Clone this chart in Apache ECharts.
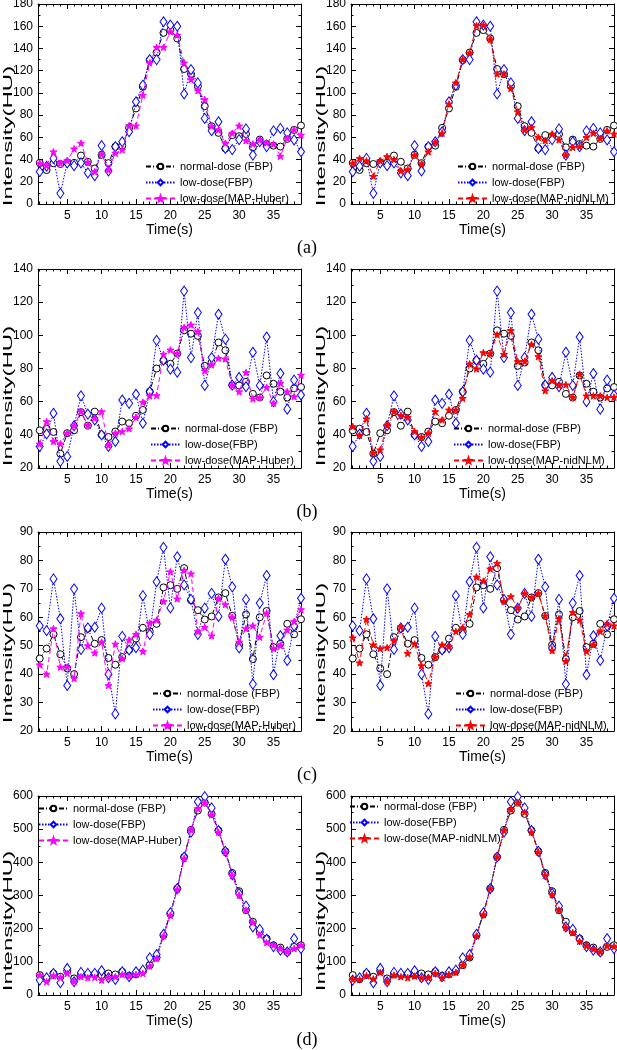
<!DOCTYPE html>
<html>
<head>
<meta charset="utf-8">
<script src="https://cdn.jsdelivr.net/npm/echarts@6/dist/echarts.min.js"></script>
<style>
html, body { margin: 0; padding: 0; background: #fff; }
#chart { width: 617px; height: 1050px; }
</style>
</head>
<body>
<div id="chart"></div>
<script>
var time = [1, 2, 3, 4, 5, 6, 7, 8, 9, 10, 11, 12, 13, 14, 15, 16, 17, 18, 19, 20,
	21, 22, 23, 24, 25, 26, 27, 28, 29, 30, 31, 32, 33, 34, 35, 36, 37, 38, 39];
var xTicks = [5, 10, 15, 20, 25, 30, 35];

// (a)
var normalA = [37, 30.6, 36.7, 36, 37.5, 37, 43.6, 38, 32, 44.3, 36.8, 51.7, 52.5, 68.5, 86, 105.5, 129.5, 136.3, 154, 156.5,
	149, 121.5, 117, 106, 88, 70, 64, 50, 62, 61, 63, 51, 58, 54, 52.5, 51.7, 58.6, 66.7, 70.6];
var lowA = [29, 34, 41, 9.6, 37, 34.5, 37, 28, 25.5, 52.6, 29.7, 51.7, 56, 65, 92, 107, 130, 130, 164, 161,
	160, 99, 121, 109, 77, 66, 74, 50, 49, 58, 67.6, 44, 56, 51.7, 65.8, 68, 64, 57.7, 47];
var huberA = [36.7, 34.5, 47, 36.7, 39, 49.6, 54.7, 37.5, 29, 45, 30.6, 45.7, 48.7, 70.6, 70.3, 98, 127, 141, 141, 155,
	152, 127, 112, 102, 94, 70, 66.7, 54.7, 63.7, 70.3, 57, 54, 57.7, 55, 54, 43, 59, 66.7, 62];
var nlmA = [36.7, 41, 38.8, 25, 38.8, 42.7, 40, 29.7, 31, 44, 36, 47, 55.6, 63.7, 90, 109, 130, 136, 160.5, 161,
	148, 117, 117, 104, 83, 66.7, 69, 60, 57, 63, 57.7, 44, 51, 51.7, 60, 63.7, 59, 65.8, 63];

// (b)
var normalB = [42.7, 43.7, 41.7, 28.6, 41, 42.7, 53.7, 45.5, 54, 40, 38.7, 42, 48, 47, 51.5, 55, 66, 80, 84.8, 82.8,
	89, 103, 101, 99.7, 81.6, 83.6, 95.7, 91, 70, 69.8, 72, 64.7, 62.5, 75.8, 70.8, 66, 62.5, 68, 68.8];
var lowB = [33, 40.5, 53, 24, 27, 45.5, 63.5, 52.5, 49, 40, 33, 36, 61, 59, 64.5, 47, 66, 97, 85, 79.6,
	77.8, 126.7, 86.6, 113.7, 69.8, 86.6, 112.7, 97.7, 70, 74.6, 69, 89.8, 69.8, 99, 60, 77, 55.5, 73, 64];
var huberB = [34.5, 48, 36, 34.6, 41, 45.5, 54, 45.7, 50, 54, 33.6, 41, 42, 43.7, 50.5, 59.7, 63.5, 63.7, 88.6, 91.2,
	89, 104.7, 106.3, 102.3, 78.6, 82.2, 86.2, 85.8, 69.8, 66, 77.6, 61.7, 62.5, 68.6, 59, 71.2, 66, 63, 76];
var nlmB = [45, 39.7, 49.7, 29, 31, 45.7, 54, 51.7, 50.5, 42, 38.5, 41, 54, 49, 55, 55, 62, 82.8, 79.8, 89.6,
	89, 100.3, 88.6, 103, 84.2, 84.2, 94.6, 87.2, 66.6, 72.6, 69.8, 70.2, 62.5, 76.6, 63.5, 63.5, 63.5, 62.5, 62.7];

// (c)
var normalC = [45.5, 49, 54, 47, 42, 40, 53, 56, 50.7, 52, 45.7, 43.3, 46, 48.5, 52.5, 56.3, 55, 57.7, 70.5, 71.3,
	70, 77.3, 66, 62.5, 59.2, 60.3, 67, 68.5, 60.5, 50.3, 61, 45.3, 60, 62.2, 49.5, 50.7, 57.7, 54, 59.3];
var lowC = [57, 55.3, 73.5, 59.5, 36, 70, 48.7, 56.3, 56.5, 63.2, 40, 26, 53.3, 48.5, 49.3, 67.6, 54, 72.5, 84.6, 63.3,
	81.3, 71.4, 66.3, 54, 63.2, 68.4, 60.3, 80.4, 70.7, 49.2, 66.3, 36.5, 65, 74.7, 39.8, 53.5, 44.8, 57, 66.7];
var huberC = [43.3, 40, 56, 42.5, 42.5, 38.5, 61.3, 50, 47.5, 51.3, 36, 50.6, 45.5, 52, 54, 48, 58, 59, 65.6, 76,
	66.5, 76.5, 75.3, 55, 56.5, 53.5, 66.7, 64.5, 60, 51.3, 56, 57, 53, 61.5, 49, 50, 55.5, 58.5, 62.7];
var nlmC = [52.8, 44, 59.3, 50.3, 49, 49.3, 51.7, 56.7, 47.3, 50.6, 43, 36.7, 46, 50.3, 49.7, 55, 56.3, 61, 74.2, 72.7,
	77, 79, 65.6, 67.3, 63.3, 68.4, 67, 68.4, 60.5, 48.3, 59.5, 44.5, 61.7, 59, 48, 50.3, 55, 57.7, 57];

// (d)
var normalD = [60, 48, 65, 55, 73, 50, 62, 60, 63, 60, 65, 62, 70, 58, 62, 72, 90, 113, 180, 244,
	321, 416, 498, 556, 580, 546, 496, 433, 368, 313, 256, 221, 190, 170, 150, 143, 130, 145, 150];
var lowD = [45, 52, 65, 37, 80, 40, 68, 65, 65, 73, 52, 47, 70, 55, 70, 75, 112, 122, 183, 248,
	321, 416, 491, 583, 598, 564, 496, 433, 363, 306, 268, 205, 198, 168, 146, 135, 130, 170, 140];
var huberD = [60, 40, 58, 53, 65, 40, 55, 52, 53, 45, 53, 55, 62, 57, 62, 65, 87, 110, 178, 240,
	318, 411, 498, 562, 580, 543, 491, 431, 361, 301, 256, 219, 181, 158, 150, 140, 130, 140, 150];
var nlmD = [47, 47, 58, 48, 68, 40, 60, 55, 52, 57, 52, 52, 65, 52, 62, 68, 90, 115, 178, 242,
	321, 416, 496, 560, 580, 551, 491, 431, 361, 303, 256, 203, 188, 162, 148, 138, 130, 148, 146];

var yRanges = [[0, 180, 20], [20, 140, 20], [20, 90, 10], [0, 600, 100]];
var panelLetters = ["(a)", "(b)", "(c)", "(d)"];

var NAME_N = "normal-dose (FBP)",
	NAME_L = "low-dose(FBP)",
	NAME_H = "low-dose(MAP-Huber)",
	NAME_M = "low-dose(MAP-nidNLM)";

var FONT = '"Liberation Sans", Arial, sans-serif';
var STAR = 'path://M0,-10L2.35,-3.24L9.51,-3.09L3.8,1.24L5.88,8.09L0,4L-5.88,8.09L-3.8,1.24L-9.51,-3.09L-2.35,-3.24Z';

// fill = inside of the marker, color = outline / line
var styles = {};
styles[NAME_N] = { color: "#000000", fill: "#ffffff", dash: [5, 2, 1, 2], symbol: "circle", size: 7 };
styles[NAME_L] = { color: "#0000ff", fill: "#ffffff", dash: [1.5, 1.5], symbol: "diamond", size: [7, 10] };
styles[NAME_H] = { color: "#ff00ff", fill: "#ff00ff", dash: [5, 3], symbol: STAR, size: 7 };
styles[NAME_M] = { color: "#ff0000", fill: "#ff0000", dash: [5, 3], symbol: STAR, size: 7 };

// layout of the 8 panels (lg = legend left/top)
var panels = [
	{ row: 0, left: 38, top: 4, height: 200, data: [normalA, lowA, huberA], third: NAME_H, lg: [145, 161] },
	{ row: 0, left: 351, top: 4, height: 200, data: [normalA, lowA, nlmA], third: NAME_M, lg: [457, 161] },
	{ row: 1, left: 38, top: 269, height: 199, data: [normalB, lowB, huberB], third: NAME_H, lg: [150, 423] },
	{ row: 1, left: 351, top: 269, height: 199, data: [normalB, lowB, nlmB], third: NAME_M, lg: [453, 423] },
	{ row: 2, left: 38, top: 532, height: 199, data: [normalC, lowC, huberC], third: NAME_H, lg: [152, 688] },
	{ row: 2, left: 351, top: 532, height: 199, data: [normalC, lowC, nlmC], third: NAME_M, lg: [455, 688] },
	{ row: 3, left: 38, top: 796, height: 199, data: [normalD, lowD, huberD], third: NAME_H, lg: [38, 803] },
	{ row: 3, left: 351, top: 796, height: 199, data: [normalD, lowD, nlmD], third: NAME_M, lg: [349, 801] }
];
var yTitleCenters = [136, 396, 653, 921];
var letterY = [248, 512, 775, 1040];

var minorX = time.filter(function(t) { return t % 5 !== 0; });

var grids = [], xAxes = [], yAxes = [], series = [], legends = [], graphics = [];

function xAxisPart(gi, pos, ticks, len, main) {
	return {
		gridIndex: gi,
		type: "value",
		position: pos,
		min: 0.75,
		max: 39,
		splitLine: { show: false },
		axisLine: { show: main, onZero: false, lineStyle: { color: "#000", width: 1 } },
		axisTick: { show: true, inside: true, length: len, customValues: ticks, lineStyle: { color: "#000", width: 1 } },
		axisLabel: (main && pos === "bottom") ? {
			show: true, customValues: xTicks, fontSize: 12, fontFamily: FONT, color: "#000", margin: 6
		} : { show: false },
		name: (main && pos === "bottom") ? "Time(s)" : "",
		nameLocation: "middle",
		nameGap: 16,
		nameTextStyle: { fontSize: 14, fontFamily: FONT, color: "#000" }
	};
}

function yAxisPart(gi, pos, r) {
	return {
		gridIndex: gi,
		type: "value",
		position: pos,
		min: r[0],
		max: r[1],
		interval: r[2],
		splitLine: { show: false },
		axisLine: { show: true, onZero: false, lineStyle: { color: "#000", width: 1 } },
		axisTick: { show: true, inside: true, length: 5, lineStyle: { color: "#000", width: 1 } },
		minorTick: { show: true, splitNumber: 2, length: 2.5, lineStyle: { color: "#000", width: 1 } },
		axisLabel: pos === "left" ? { show: true, fontSize: 12, fontFamily: FONT, color: "#000", margin: 5 } : { show: false }
	};
}

panels.forEach(function(p, gi) {
	grids.push({ left: p.left, top: p.top, width: 263, height: p.height, containLabel: false, outerBoundsMode: "none" });

	xAxes.push(xAxisPart(gi, "bottom", xTicks, 5, true));
	xAxes.push(xAxisPart(gi, "bottom", minorX, 2.5, false));
	xAxes.push(xAxisPart(gi, "top", xTicks, 5, true));
	xAxes.push(xAxisPart(gi, "top", minorX, 2.5, false));
	yAxes.push(yAxisPart(gi, "left", yRanges[p.row]));
	yAxes.push(yAxisPart(gi, "right", yRanges[p.row]));

	var names = [NAME_N, NAME_L, p.third];
	names.forEach(function(nm, k) {
		var st = styles[nm];
		var vals = p.data[k];
		series.push({
			name: nm,
			type: "line",
			xAxisIndex: gi * 4,
			yAxisIndex: gi * 2,
			data: time.map(function(t, i) { return [t, vals[i]]; }),
			symbol: st.symbol,
			symbolSize: st.size,
			symbolKeepAspect: true,
			showAllSymbol: true,
			itemStyle: { color: st.fill, borderColor: st.color, borderWidth: 1 },
			lineStyle: { color: st.color, width: 1, type: st.dash },
			emphasis: { disabled: true },
			z: 2 + k
		});
	});

	legends.push({
		left: p.lg[0],
		top: p.lg[1],
		orient: "vertical",
		padding: 0,
		itemWidth: 29,
		itemHeight: 7,
		itemGap: 5,
		selectedMode: false,
		data: names,
		textStyle: { fontSize: 11, fontFamily: FONT, color: "#000" }
	});

	// rotated y title
	graphics.push({
		type: "text",
		x: p.left - 30,
		y: yTitleCenters[p.row],
		rotation: Math.PI / 2,
		scaleX: 1.85,
		style: {
			text: "Intensity(HU)",
			font: '13px "Liberation Sans", Arial, sans-serif',
			fill: "#000",
			align: "center", textAlign: "center",
			verticalAlign: "middle", textVerticalAlign: "middle"
		}
	});
});

panelLetters.forEach(function(t, r) {
	graphics.push({
		type: "text",
		x: 307,
		y: letterY[r],
		style: {
			text: t,
			font: '18px "Liberation Serif", "Times New Roman", serif',
			fill: "#000",
			align: "center", textAlign: "center",
			verticalAlign: "middle", textVerticalAlign: "middle"
		}
	});
});

var myChart = echarts.init(document.getElementById("chart"));
myChart.setOption({
	backgroundColor: "#ffffff",
	animation: false,
	grid: grids,
	xAxis: xAxes,
	yAxis: yAxes,
	legend: legends,
	series: series,
	graphic: graphics
});
</script>
</body>
</html>
